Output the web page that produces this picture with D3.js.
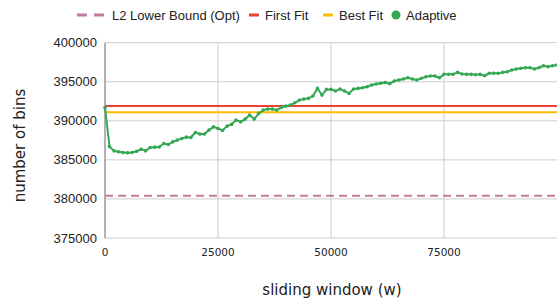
<!DOCTYPE html>
<html>
<head>
<meta charset="utf-8">
<script src="https://cdn.jsdelivr.net/npm/d3@7"></script>
<style>
  body { margin: 0; background: #fff; }
  svg { display: block; }
</style>
</head>
<body>
<script>
// values
const windowSizes = d3.range(0, 101).map(k => k * 1000);
const adaptive = [
  391700, 386700, 386150, 386030, 385950, 385900, 385950, 386100, 386370, 386150,
  386590, 386630, 386650, 387100, 386970, 387310, 387530, 387740, 387910, 387880,
  388510, 388300, 388300, 388810, 389230, 389020, 388770, 389320, 389540, 390090,
  389870, 390220, 390730, 390220, 390950, 391370, 391500, 391500, 391370, 391720,
  391880, 392010, 392310, 392650, 392780, 392870, 393170, 394150, 393290, 394020,
  394020, 393810, 394070, 393810, 393510, 394070, 394150, 394230, 394360, 394580,
  394710, 394800, 394900, 394750, 395090, 395220, 395350, 395510, 395350, 395220,
  395440, 395640, 395730, 395730, 395510, 395950, 395950, 395950, 396200, 395990,
  395950, 395950, 395900, 395950, 395770, 396080, 396080, 396080, 396200, 396280,
  396500, 396630, 396720, 396800, 396800, 396630, 396800, 397050, 396920, 397050,
  397140
];
const l2LowerBound = 380400;
const firstFit = 391900;
const bestFit = 391100;
const yTicks = [375000, 380000, 385000, 390000, 395000, 400000];
const xTicks = [0, 25000, 50000, 75000];

const legendItems = [
  { name: 'L2 Lower Bound (Opt)', color: '#c27ba0', type: 'dash' },
  { name: 'First Fit', color: '#ea4335', type: 'line' },
  { name: 'Best Fit', color: '#fbbc04', type: 'line' },
  { name: 'Adaptive', color: '#34a853', type: 'dot' }
];

const width = 557, height = 306;
const margin = { left: 105, right: 0, top: 42.7, bottom: 68 };

const svg = d3.select('body').append('svg')
    .attr('width', width)
    .attr('height', height);

const x = d3.scaleLinear()
    .domain([0, 100000])
    .range([margin.left, width - margin.right]);

const y = d3.scaleLinear()
    .domain([375000, 400000])
    .range([height - margin.bottom, margin.top]);

// grid
svg.append('g').selectAll('line.h')
    .data(yTicks)
    .join('line')
    .attr('x1', margin.left).attr('x2', width)
    .attr('y1', d => y(d)).attr('y2', d => y(d))
    .attr('stroke', '#cccccc').attr('stroke-width', 1);

svg.append('g').selectAll('line.v')
    .data(xTicks.filter(d => d > 0))
    .join('line')
    .attr('x1', d => x(d)).attr('x2', d => x(d))
    .attr('y1', y(400000)).attr('y2', y(375000))
    .attr('stroke', '#cccccc').attr('stroke-width', 1);

// left axis line
svg.append('line')
    .attr('x1', margin.left).attr('x2', margin.left)
    .attr('y1', y(400000)).attr('y2', y(375000))
    .attr('stroke', '#999').attr('stroke-width', 1.5);

// y tick labels
svg.append('g').selectAll('text')
    .data(yTicks)
    .join('text')
    .attr('x', 97)
    .attr('y', d => y(d))
    .attr('dy', '0.35em')
    .attr('text-anchor', 'end')
    .style('font-family', '"Liberation Sans", Arial, sans-serif')
    .style('font-size', '13px')
    .style('fill', '#222')
    .text(d => d);

// x tick labels
svg.append('g').selectAll('text')
    .data(xTicks)
    .join('text')
    .attr('x', d => x(d))
    .attr('y', 256)
    .attr('text-anchor', 'middle')
    .style('font-family', '"DejaVu Sans", Verdana, sans-serif')
    .style('font-size', '10.5px')
    .style('fill', '#222')
    .text(d => d);

// axis titles
svg.append('text')
    .attr('x', 332).attr('y', 295)
    .attr('text-anchor', 'middle')
    .style('font-family', '"DejaVu Sans", Verdana, sans-serif')
    .style('font-size', '15px')
    .style('fill', '#222')
    .text('sliding window (w)');

svg.append('text')
    .attr('transform', 'translate(25,145.5) rotate(-90)')
    .attr('text-anchor', 'middle')
    .style('font-family', '"DejaVu Sans", Verdana, sans-serif')
    .style('font-size', '15px')
    .style('fill', '#222')
    .text('number of bins');

// reference lines
svg.append('line')
    .attr('x1', margin.left).attr('x2', width)
    .attr('y1', y(l2LowerBound)).attr('y2', y(l2LowerBound))
    .attr('stroke', legendItems[0].color).attr('stroke-width', 2)
    .attr('stroke-dasharray', '8,5');

svg.append('line')
    .attr('x1', margin.left).attr('x2', width)
    .attr('y1', y(firstFit)).attr('y2', y(firstFit))
    .attr('stroke', legendItems[1].color).attr('stroke-width', 2);

svg.append('line')
    .attr('x1', margin.left).attr('x2', width)
    .attr('y1', y(bestFit)).attr('y2', y(bestFit))
    .attr('stroke', legendItems[2].color).attr('stroke-width', 2);

// adaptive series
const pts = windowSizes.map((w, i) => [w, adaptive[i]]);
const line = d3.line().x(d => x(d[0])).y(d => y(d[1]));

svg.append('path')
    .datum(pts)
    .attr('d', line)
    .attr('fill', 'none')
    .attr('stroke', legendItems[3].color)
    .attr('stroke-width', 2);

svg.append('g').selectAll('circle')
    .data(pts)
    .join('circle')
    .attr('cx', d => x(d[0]))
    .attr('cy', d => y(d[1]))
    .attr('r', 1.8)
    .attr('fill', legendItems[3].color);

// legend
const legendX = [77, 249, 323, 396];
const legendY = 15;
const lg = svg.append('g');
legendItems.forEach((it, i) => {
  const g = lg.append('g').attr('transform', `translate(${legendX[i]},${legendY})`);
  let tx;
  if (it.type === 'dash') {
    g.append('line').attr('x1', 0).attr('x2', 28).attr('y1', 0).attr('y2', 0)
      .attr('stroke', it.color).attr('stroke-width', 3).attr('stroke-dasharray', '10,7');
    tx = 35;
  } else if (it.type === 'line') {
    g.append('line').attr('x1', 0).attr('x2', 10).attr('y1', 0).attr('y2', 0)
      .attr('stroke', it.color).attr('stroke-width', 3);
    tx = 16;
  } else {
    g.append('circle').attr('cx', 0).attr('cy', 0).attr('r', 4.5).attr('fill', it.color);
    tx = 10;
  }
  g.append('text')
    .attr('x', tx).attr('y', 0).attr('dy', '0.35em')
    .style('font-family', '"Liberation Sans", Arial, sans-serif')
    .style('font-size', '13px')
    .style('fill', '#222')
    .text(it.name);
});
</script>
</body>
</html>
